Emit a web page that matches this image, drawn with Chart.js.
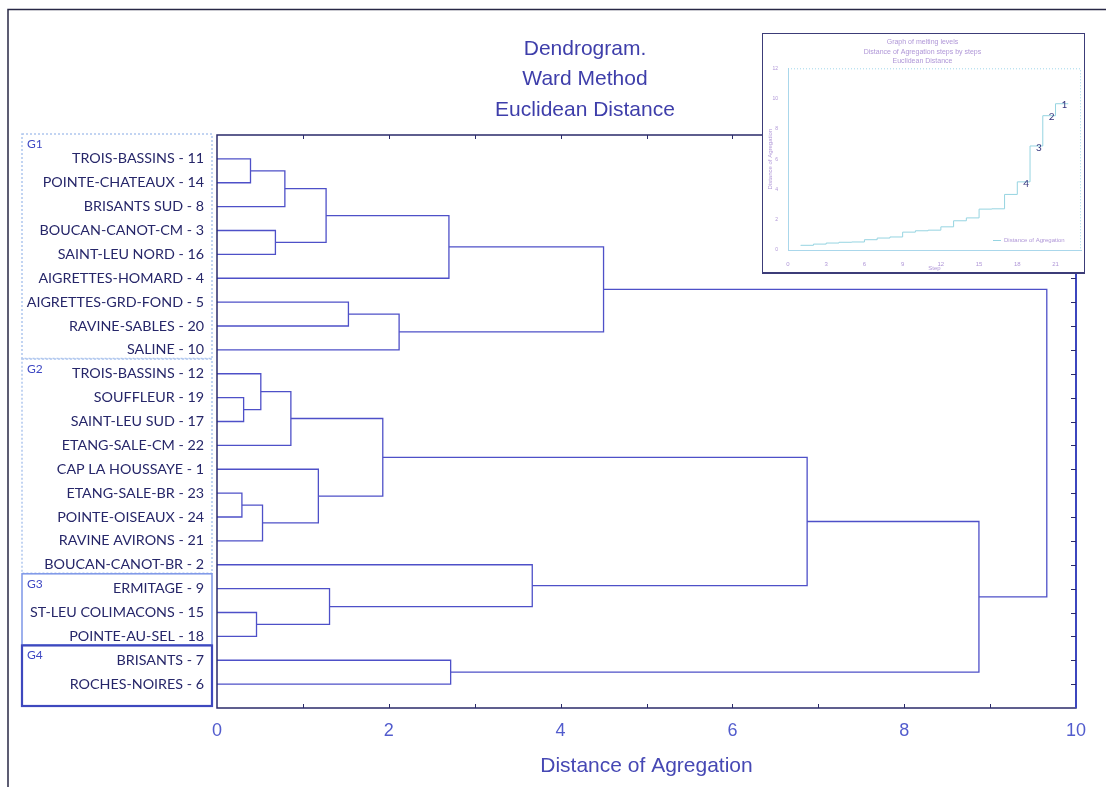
<!DOCTYPE html>
<html>
<head>
<meta charset="utf-8">
<script src="https://cdn.jsdelivr.net/npm/chart.js@4"></script>
<style>
  html, body { margin: 0; padding: 0; background: #fff; }
  #wrap { position: relative; width: 1106px; height: 787px; }
  #inset { position: absolute; left: 762px; top: 33px; width: 321px; height: 238px;
           background: #fff; border: 1px solid #3c3c78; border-bottom-width: 2px; }
</style>
</head>
<body>
<div id="wrap">
  <canvas id="dendro" width="1106" height="787"></canvas>
  <div id="inset"><canvas id="melt" width="321" height="238"></canvas></div>
</div>
<script>
// leaves, top to bottom
const leaves = [
  'TROIS-BASSINS - 11', 'POINTE-CHATEAUX - 14', 'BRISANTS SUD - 8', 'BOUCAN-CANOT-CM - 3',
  'SAINT-LEU NORD - 16', 'AIGRETTES-HOMARD - 4', 'AIGRETTES-GRD-FOND - 5', 'RAVINE-SABLES - 20',
  'SALINE - 10', 'TROIS-BASSINS - 12', 'SOUFFLEUR - 19', 'SAINT-LEU SUD - 17',
  'ETANG-SALE-CM - 22', 'CAP LA HOUSSAYE - 1', 'ETANG-SALE-BR - 23', 'POINTE-OISEAUX - 24',
  'RAVINE AVIRONS - 21', 'BOUCAN-CANOT-BR - 2', 'ERMITAGE - 9', 'ST-LEU COLIMACONS - 15',
  'POINTE-AU-SEL - 18', 'BRISANTS - 7', 'ROCHES-NOIRES - 6'
];

// [node a, node b, distance]; nodes 0..22 are leaves, 23.. are the merges below in order
const merges = [
  [14, 15, 0.29], [10, 11, 0.31], [0, 1, 0.39], [19, 20, 0.46], [9, 24, 0.51],
  [23, 16, 0.53], [3, 4, 0.68], [25, 2, 0.79], [27, 12, 0.86], [13, 28, 1.18],
  [30, 29, 1.27], [18, 26, 1.31], [6, 7, 1.53], [31, 32, 1.93], [35, 8, 2.12],
  [33, 5, 2.70], [21, 22, 2.72], [17, 34, 3.67], [38, 37, 4.50], [36, 40, 6.87],
  [42, 39, 8.87], [41, 43, 9.66]
];

const groupNames = ['G1', 'G2', 'G3', 'G4'];
const groupFirst = [0, 9, 18, 21];
const groupLast = [8, 17, 20, 22];

const titleLines = ['Dendrogram.', 'Ward Method', 'Euclidean Distance'];
const meltTitle = ['Graph of melting levels', 'Distance of Agregation steps by steps', 'Euclidean Distance'];
const meltMarks = ['1', '2', '3', '4'];

const LINK = 'rgb(78,80,200)';
const NAVY = 'rgb(42,42,105)';
const LABEL = 'rgb(38,38,105)';
const BLUE_TXT = 'rgb(70,72,180)';
const MELT_TXT = 'rgb(175,150,215)';
const MELT_LINE = 'rgb(150,212,225)';

// build link polylines from the merge table
const nodeY = leaves.map((_, i) => i);
const nodeH = leaves.map(() => 0);
const linkSets = merges.map(([a, b, h]) => {
  const pts = [
    { x: nodeH[a], y: nodeY[a] }, { x: h, y: nodeY[a] },
    { x: h, y: nodeY[b] }, { x: nodeH[b], y: nodeY[b] }
  ];
  nodeY.push((nodeY[a] + nodeY[b]) / 2);
  nodeH.push(h);
  return { data: pts, showLine: true, borderColor: LINK, borderWidth: 1.3, pointRadius: 0, tension: 0 };
});

const decor = {
  id: 'decor',
  afterDraw(chart) {
    const { ctx, chartArea: a, scales: { x, y } } = chart;
    ctx.save();
    // outer frame
    ctx.strokeStyle = 'rgb(40,40,70)';
    ctx.lineWidth = 1.5;
    ctx.beginPath();
    ctx.moveTo(8, 787); ctx.lineTo(8, 9.5); ctx.lineTo(1106, 9.5);
    ctx.stroke();

    // plot frame
    ctx.strokeStyle = NAVY;
    ctx.lineWidth = 1.5;
    ctx.strokeRect(a.left, a.top, a.right - a.left, a.bottom - a.top);
    ctx.strokeStyle = 'rgb(60,70,190)';
    ctx.lineWidth = 2;
    ctx.beginPath(); ctx.moveTo(a.right, a.top); ctx.lineTo(a.right, a.bottom); ctx.stroke();

    // inward ticks
    ctx.strokeStyle = NAVY;
    ctx.lineWidth = 1;
    ctx.beginPath();
    for (let v = 1; v < 10; v++) {
      const px = Math.round(x.getPixelForValue(v)) + 0.5;
      ctx.moveTo(px, a.top); ctx.lineTo(px, a.top + 4);
      ctx.moveTo(px, a.bottom); ctx.lineTo(px, a.bottom - 4);
    }
    leaves.forEach((_, i) => {
      const py = Math.round(y.getPixelForValue(i)) + 0.5;
      ctx.moveTo(a.right, py); ctx.lineTo(a.right - 5, py);
    });
    ctx.stroke();

    // title
    ctx.fillStyle = 'rgb(62,62,170)';
    ctx.font = '21px "Liberation Sans"';
    ctx.textAlign = 'center';
    ctx.textBaseline = 'middle';
    titleLines.forEach((t, i) => ctx.fillText(t, 585, 49 + i * 30.5));

    // group boxes
    const styles = [
      { c: 'rgb(175,198,238)', w: 1.5, dash: [2, 2] },
      { c: 'rgb(175,198,238)', w: 1.5, dash: [2, 2] },
      { c: 'rgb(125,150,232)', w: 1.5, dash: [] },
      { c: 'rgb(62,72,190)', w: 2.2, dash: [] }
    ];
    groupNames.forEach((g, i) => {
      const top = i === 0 ? a.top - 1 : y.getPixelForValue(groupFirst[i] - 0.62);
      const bot = i === groupNames.length - 1 ? a.bottom - 2 : y.getPixelForValue(groupLast[i] + 0.36);
      const s = styles[i];
      ctx.strokeStyle = s.c; ctx.lineWidth = s.w; ctx.setLineDash(s.dash);
      ctx.strokeRect(22, top, 190, bot - top);
      ctx.setLineDash([]);
      ctx.fillStyle = 'rgb(62,72,195)';
      ctx.font = '12px Lato';
      ctx.textAlign = 'left';
      ctx.fillText(g, 27, top + 10);
    });
    ctx.restore();
  }
};

new Chart(document.getElementById('dendro'), {
  type: 'scatter',
  data: { datasets: linkSets },
  options: {
    responsive: false, animation: false, devicePixelRatio: 1,
    layout: { padding: { top: 135, right: 30, left: 0, bottom: 0 } },
    plugins: { legend: { display: false }, tooltip: { enabled: false } },
    scales: {
      x: {
        type: 'linear', min: 0, max: 10,
        afterFit: s => { s.height = 79; },
        ticks: { stepSize: 2, padding: 12, color: 'rgb(82,92,205)', font: { family: 'Liberation Sans', size: 18 } },
        grid: { display: false, drawTicks: false }, border: { display: false },
        title: { display: true, text: 'Distance of Agregation', color: BLUE_TXT,
                 font: { family: 'Liberation Sans', size: 21 }, padding: { top: 0, bottom: 8 } }
      },
      y: {
        type: 'linear', reverse: true, min: -1, max: 23,
        afterFit: s => { s.width = 217; },
        ticks: { stepSize: 1, autoSkip: false, padding: 13, color: LABEL,
                 font: { family: 'Lato', size: 14.3 }, callback: v => leaves[v] ?? '' },
        grid: { display: false, drawTicks: false }, border: { display: false }
      }
    }
  },
  plugins: [decor]
});

// inset: melting levels
const meltDecor = {
  id: 'meltDecor',
  afterDraw(chart) {
    const { ctx, chartArea: a, scales: { x, y } } = chart;
    ctx.save();
    ctx.strokeStyle = 'rgb(160,215,235)';
    ctx.lineWidth = 1;
    ctx.setLineDash([1, 2]);
    ctx.beginPath();
    ctx.moveTo(a.left, a.top + 0.5); ctx.lineTo(a.right - 0.5, a.top + 0.5); ctx.lineTo(a.right - 0.5, a.bottom);
    ctx.stroke();
    ctx.setLineDash([]);
    // legend
    ctx.strokeStyle = MELT_LINE;
    ctx.beginPath(); ctx.moveTo(a.right - 88, a.bottom - 9.5); ctx.lineTo(a.right - 80, a.bottom - 9.5); ctx.stroke();
    ctx.fillStyle = MELT_TXT;
    ctx.font = '6px "Liberation Sans"';
    ctx.textAlign = 'left'; ctx.textBaseline = 'middle';
    ctx.fillText('Distance of Agregation', a.right - 77, a.bottom - 9.5);
    // step marks
    ctx.fillStyle = 'rgb(52,52,125)';
    ctx.font = '10px Lato';
    ctx.textAlign = 'center';
    meltMarks.forEach((m, k) => {
      const step = merges.length - k;
      const val = merges[step - 1][2];
      ctx.fillText(m, x.getPixelForValue(step - 0.3), y.getPixelForValue(val - 0.1));
    });
    ctx.restore();
  }
};

const tinyFont = { family: 'Liberation Sans', size: 6 };
new Chart(document.getElementById('melt'), {
  type: 'line',
  data: {
    datasets: [{
      label: 'Distance of Agregation',
      data: merges.map((m, i) => ({ x: i + 1, y: m[2] })),
      stepped: 'after', borderColor: MELT_LINE, borderWidth: 1, pointRadius: 0
    }]
  },
  options: {
    responsive: false, animation: false, devicePixelRatio: 1,
    layout: { padding: { right: 2, left: 0, top: 0, bottom: 0 } },
    plugins: {
      legend: { display: false }, tooltip: { enabled: false },
      title: { display: true, text: meltTitle, color: MELT_TXT,
               font: { family: 'Liberation Sans', size: 7, weight: 'normal', lineHeight: 1.3 },
               padding: { top: 4, bottom: 3 } }
    },
    scales: {
      x: {
        type: 'linear', min: 0, max: 23,
        afterFit: s => { s.height = 22; },
        ticks: { stepSize: 3, padding: 3, color: MELT_TXT, font: tinyFont,
                 callback: v => (v % 3 === 0 ? v : '') },
        grid: { display: false }, border: { color: 'rgb(170,215,235)' },
        title: { display: true, text: 'Step', color: MELT_TXT, font: tinyFont, padding: 0 }
      },
      y: {
        min: 0, max: 12,
        afterFit: s => { s.width = 25; },
        ticks: { stepSize: 2, padding: 2, color: MELT_TXT, font: { family: 'Liberation Sans', size: 5 } },
        grid: { display: false }, border: { color: 'rgb(170,215,235)' },
        title: { display: true, text: 'Distance of Agregation', color: MELT_TXT, font: tinyFont, padding: { top: 4, bottom: 0 } }
      }
    }
  },
  plugins: [meltDecor]
});
</script>
</body>
</html>
